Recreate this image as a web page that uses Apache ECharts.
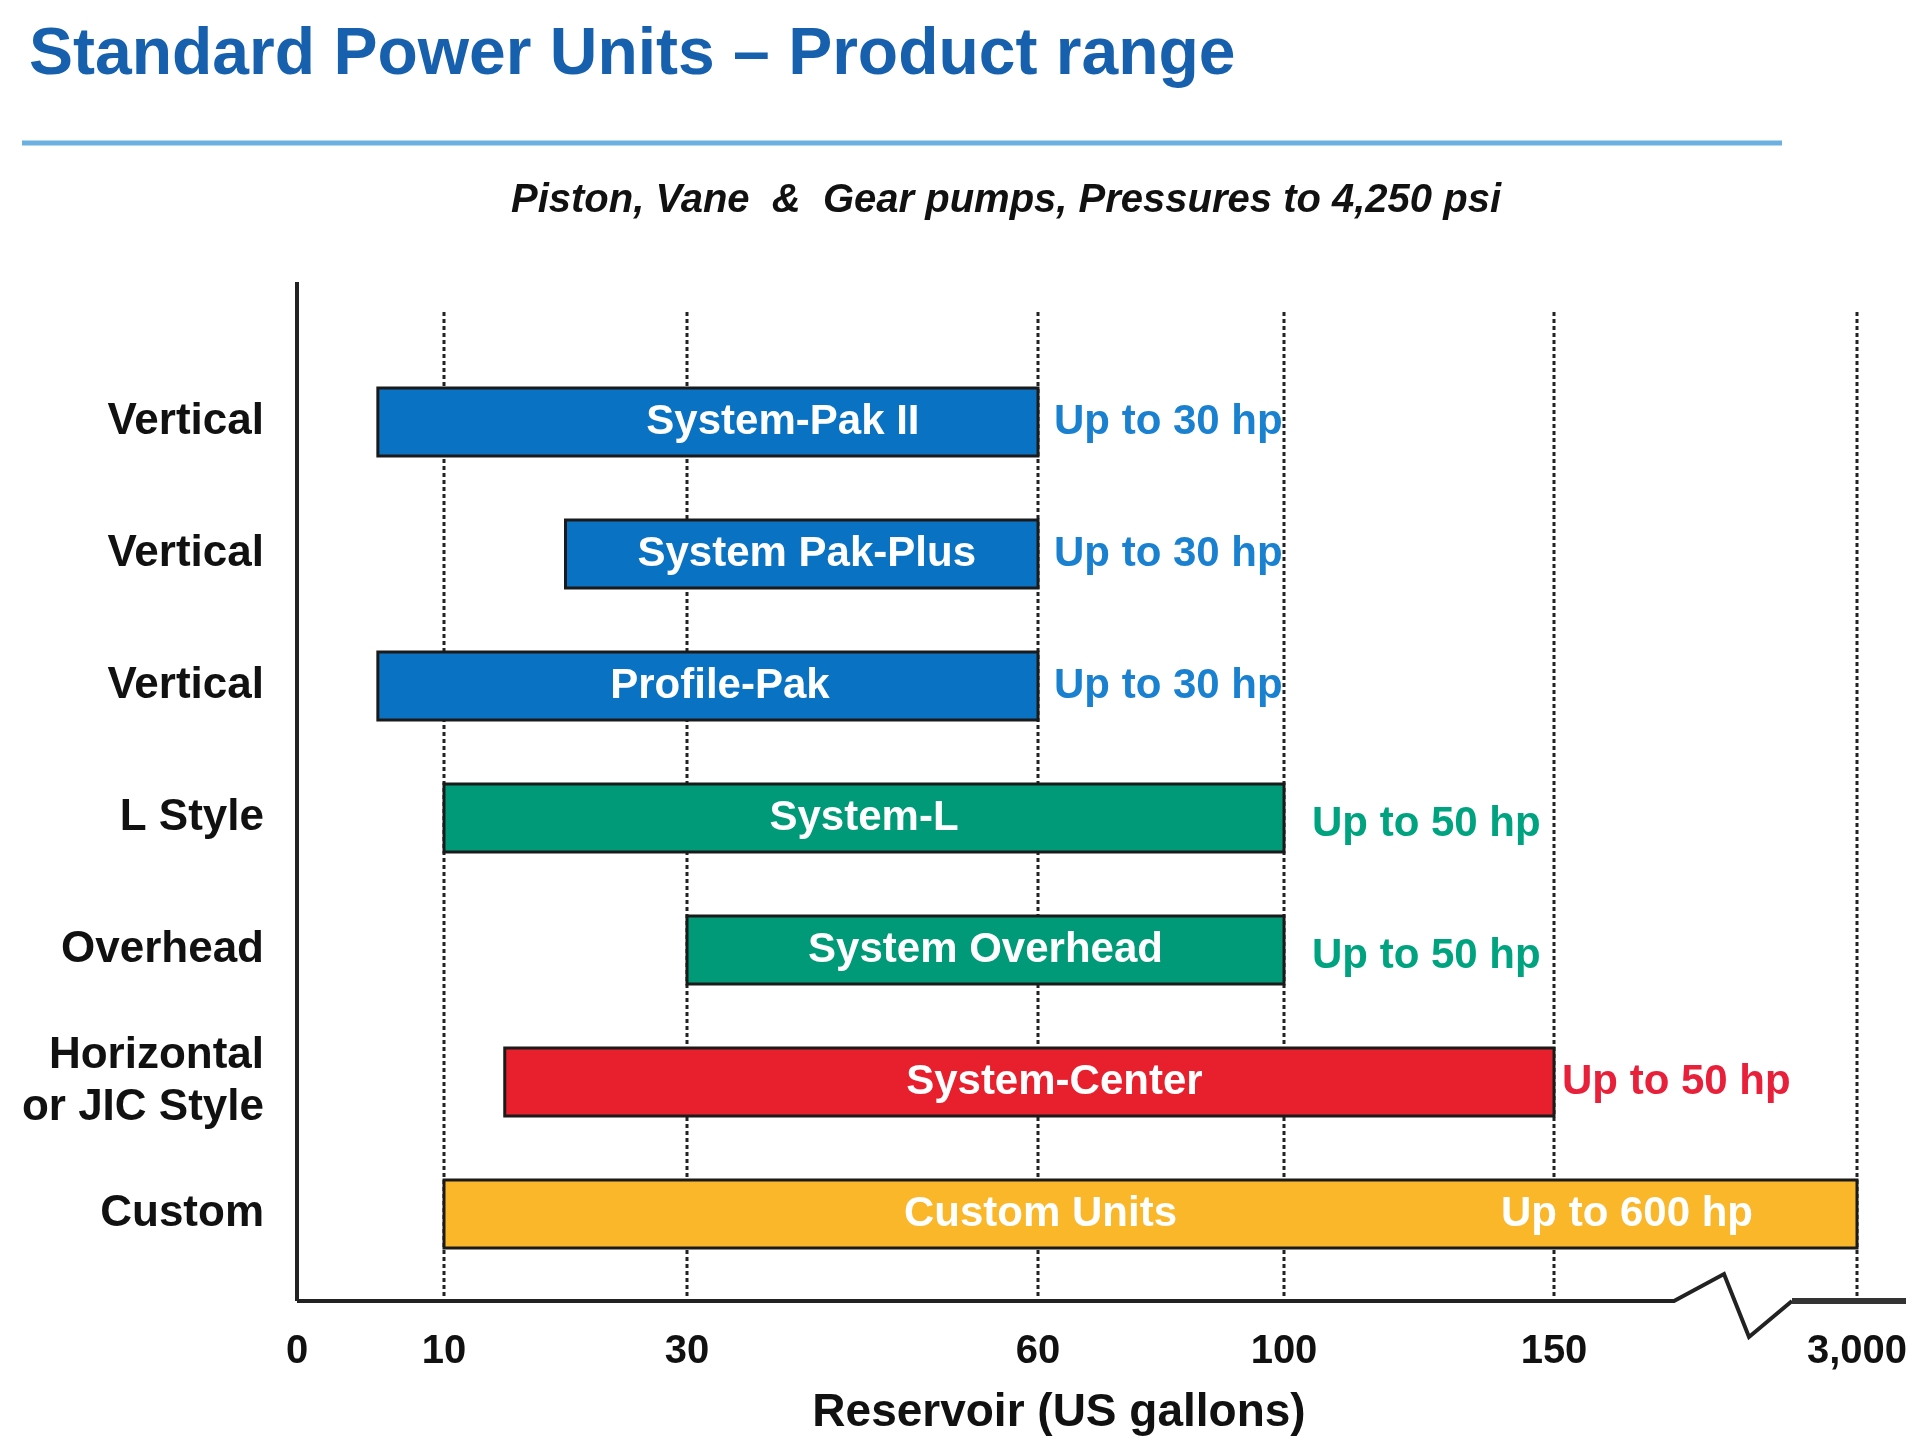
<!DOCTYPE html>
<html><head><meta charset="utf-8">
<script src="https://cdn.jsdelivr.net/npm/echarts@6/dist/echarts.min.js"></script>
<style>html,body{margin:0;padding:0;background:#fff}#c{width:1920px;height:1449px}</style>
</head><body><div id="c"></div>
<script>
const categories = ["Vertical", "Vertical", "Vertical", "L Style", "Overhead", "Horizontal\nor JIC Style", "Custom"];
const products = ["System-Pak II", "System Pak-Plus", "Profile-Pak", "System-L", "System Overhead", "System-Center", "Custom Units"];
const startGal = [5.5, 20, 5.5, 10, 30, 15, 10];
const endGal = [60, 60, 60, 100, 100, 150, 3000];
const hpLabels = ["Up to 30 hp", "Up to 30 hp", "Up to 30 hp", "Up to 50 hp", "Up to 50 hp", "Up to 50 hp", "Up to 600 hp"];
const tickGal = [0, 10, 30, 60, 100, 150, 3000];
const tickLabels = ["0", "10", "30", "60", "100", "150", "3,000"];

// broken axis: each tick gets its own spot on the (linear) display axis
const tickPos = [0, 147, 390, 741, 987, 1257, 1560];
const labelDx = [75, 5, 12, 0, 0, 25, -110];
const fill = ["#0a72c2", "#0a72c2", "#0a72c2", "#009a78", "#009a78", "#e8202e", "#fbb72a"];
const hpColor = ["#1a80d0", "#1a80d0", "#1a80d0", "#00a37f", "#00a37f", "#e8203a", "#ffffff"];
const FONT = "'Liberation Sans Narrow', 'Liberation Sans', sans-serif";

function toPos(g) {
  for (let i = 1; i < tickGal.length; i++) {
    if (g <= tickGal[i]) {
      const t = (g - tickGal[i - 1]) / (tickGal[i] - tickGal[i - 1]);
      return tickPos[i - 1] + t * (tickPos[i] - tickPos[i - 1]);
    }
  }
  return tickPos[tickPos.length - 1];
}

const data = categories.map((c, i) => [toPos(startGal[i]), toPos(endGal[i]), i]);
const chart = echarts.init(document.getElementById("c"));

chart.setOption({
  animation: false,
  title: [
    { text: "Standard Power Units – Product range", left: 24, top: 18,
      textStyle: { fontFamily: "'Liberation Sans', sans-serif", fontSize: 66, fontWeight: "bold", color: "#1660ad" } },
    { text: "Piston, Vane  &  Gear pumps, Pressures to 4,250 psi", left: 1001, top: 176, textAlign: "center",
      textStyle: { fontFamily: FONT, fontSize: 40, fontWeight: "bold", fontStyle: "italic", color: "#111" } }
  ],
  grid: { left: 297, width: 1609, top: 356, height: 924 },
  xAxis: {
    type: "value", min: 0, max: 1609,
    axisLine: { show: false }, splitLine: { show: false }, axisTick: { show: false },
    axisLabel: { customValues: tickPos, formatter: v => tickLabels[tickPos.indexOf(v)],
      margin: 52, fontFamily: FONT, fontSize: 40, fontWeight: "bold", color: "#111" },
    name: "Reservoir (US gallons)", nameLocation: "middle", nameGap: 110,
    nameTextStyle: { fontFamily: FONT, fontSize: 46, fontWeight: "bold", color: "#111", padding: [0, 85, 0, 0] }
  },
  yAxis: {
    type: "category", data: categories, inverse: true,
    axisLine: { show: false }, axisTick: { show: false },
    axisLabel: { margin: 33, fontFamily: FONT, fontSize: 44, fontWeight: "bold", color: "#111", lineHeight: 52 }
  },
  series: [{
    type: "custom",
    data: data,
    encode: { x: [0, 1], y: 2 },
    renderItem: (params, api) => {
      const i = api.value(2);
      const a = api.coord([api.value(0), i]);
      const b = api.coord([api.value(1), i]);
      const h = 68;
      const custom = i === categories.length - 1;
      const children = [{
        type: "rect",
        shape: { x: a[0], y: a[1] - h / 2, width: b[0] - a[0], height: h },
        style: { fill: fill[i], stroke: "#1a1a1a", lineWidth: 3 }
      }, {
        type: "text",
        style: { x: (a[0] + b[0]) / 2 + labelDx[i], y: a[1], text: products[i],
          align: "center", verticalAlign: "middle", fill: "#fff",
          font: "bold 42px " + FONT }
      }, {
        type: "text",
        style: { x: custom ? b[0] - 230 : b[0] + (i === 5 ? 8 : (i >= 3 ? 28 : 16)), y: a[1] + (i >= 3 && i <= 4 ? 6 : 0),
          text: hpLabels[i], align: custom ? "center" : "left", verticalAlign: "middle",
          fill: hpColor[i], font: "bold 42px " + FONT }
      }];
      return { type: "group", children: children };
    }
  }]
});

// axes, dashed guides and break mark drawn from the chart's own scale
const y0 = 1301, yTop = 282, gridTop = 312;
const g = [];
g.push({ type: "line", shape: { x1: 297, y1: yTop, x2: 297, y2: y0 }, style: { stroke: "#222", lineWidth: 4 } });
tickPos.slice(1).forEach(p => {
  const x = chart.convertToPixel({ xAxisIndex: 0 }, p);
  g.push({ type: "line", z: -1, shape: { x1: x, y1: gridTop, x2: x, y2: y0 }, style: { stroke: "#222", lineWidth: 3, lineDash: [4, 3] } });
});
const bx1 = chart.convertToPixel({ xAxisIndex: 0 }, 1377);
const bx2 = chart.convertToPixel({ xAxisIndex: 0 }, 1500);
const bxEnd = chart.convertToPixel({ xAxisIndex: 0 }, 1609);
g.push({ type: "polyline", shape: { points: [[297, y0], [bx1, y0], [bx1 + 50, y0 - 27], [bx1 + 75, y0 + 36], [bx2 - 5, y0]] }, style: { stroke: "#222", lineWidth: 4, fill: null } });
g.push({ type: "line", shape: { x1: bx2 - 5, y1: y0, x2: bxEnd, y2: y0 }, style: { stroke: "#333", lineWidth: 6 } });
g.push({ type: "line", shape: { x1: 22, y1: 143, x2: 1782, y2: 143 }, style: { stroke: "#6cb0e2", lineWidth: 5 } });
chart.setOption({ graphic: g });
</script>
</body></html>
